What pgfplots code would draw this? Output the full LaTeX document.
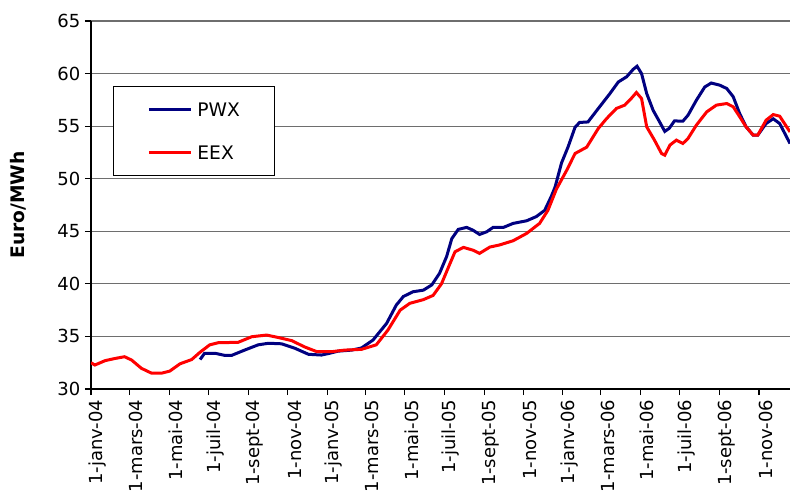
\documentclass[border=0pt]{standalone}
\usepackage{pgfplots}
\pgfplotsset{compat=1.18}
\usepackage{fontspec}
\setmainfont{DejaVu Sans}
\definecolor{pwx}{RGB}{0,0,128}
\definecolor{eex}{RGB}{255,0,0}
\definecolor{gridgray}{RGB}{110,110,110}

\begin{document}
\begin{tikzpicture}
\begin{axis}[
    scale only axis,
    width=524.25pt, height=276pt,
    xmin=0, xmax=1083, ymin=30, ymax=65,
    axis x line=bottom, axis y line=left,
    axis line style={-, line width=1pt},
    ytick={30,35,...,65},
    xtick={0,60,121,182,244,305,366,425,486,547,609,670,731,790,851,912,974,1035},
    xticklabels={1-janv-04,1-mars-04,1-mai-04,1-juil-04,1-sept-04,1-nov-04,
                 1-janv-05,1-mars-05,1-mai-05,1-juil-05,1-sept-05,1-nov-05,
                 1-janv-06,1-mars-06,1-mai-06,1-juil-06,1-sept-06,1-nov-06},
    ymajorgrids,
    grid style={gridgray, line width=0.8pt},
    tick align=outside,
    major tick length=4.5pt,
    tick style={black, line width=0.8pt},
    /pgf/number format/assume math mode=true,
    ticklabel style={font=\fontsize{13.5}{16}\selectfont},
    xticklabel style={rotate=90, anchor=east, yshift=-5pt},
    ylabel={Euro/MWh},
    ylabel style={font=\bfseries\fontsize{14}{16}\selectfont,
                  at={(axis description cs:-0.1037,0.5)}, anchor=center},
    legend style={at={(0.0315,0.823)}, anchor=north west,
                  draw=black, line width=0.6pt, fill=white,
                  font=\fontsize{14}{16}\selectfont,
                  inner xsep=25.5pt, inner ysep=12.25pt,
                  row sep=22.25pt, column sep=3.75pt,
                  nodes={inner sep=0pt, text height=10pt, text depth=0pt}},
    legend cell align=left,
    legend image code/.code={\draw[#1, line width=2.25pt] (0pt,0pt) -- (31.5pt,0pt);},
]
% PWX
\addplot[pwx, line width=2.25pt] coordinates {
(169,32.8) (176,33.4) (192,33.4) (207,33.2) (218,33.2) (238,33.7) (259,34.2)
(275,34.35) (295,34.3) (316,33.87) (337,33.3) (357,33.23) (370,33.4) (383,33.6)
(404,33.7) (419,33.9) (437,34.66) (458,36.24) (473,37.98) (484,38.8) (499,39.25)
(515,39.4) (528,39.9) (540,41.0) (551,42.6) (559,44.3) (569,45.18) (582,45.37)
(592,45.1) (602,44.7) (613,44.95) (623,45.37) (639,45.37) (654,45.75) (675,46.0)
(690,46.4) (703,47.0) (713,48.3) (719,49.2) (729,51.5) (739,53.0) (750,54.9)
(757,55.35) (770,55.4) (786,56.68) (804,58.1) (817,59.2) (830,59.7) (840,60.4)
(846,60.7) (853,60.0) (861,58.1) (871,56.5) (881,55.4) (889,54.5) (896,54.8)
(904,55.5) (917,55.47) (925,56.04) (938,57.47) (951,58.73) (961,59.1) (974,58.9)
(985,58.58) (995,57.8) (1005,56.2) (1015,54.93) (1026,54.14) (1033,54.14)
(1046,55.25) (1057,55.7) (1067,55.25) (1083,53.35)
};
\addlegendentry{PWX}
% EEX
\addplot[eex, line width=2.25pt] coordinates {
(0,32.5) (6,32.28) (22,32.7) (37,32.9) (52,33.07) (63,32.75) (78,31.97)
(94,31.5) (109,31.5) (122,31.7) (138,32.4) (156,32.8) (169,33.5) (184,34.2)
(197,34.4) (228,34.44) (249,34.97) (272,35.13) (290,34.9) (311,34.6) (331,34.0)
(350,33.55) (373,33.55) (393,33.7) (419,33.77) (442,34.2) (460,35.6) (479,37.5)
(494,38.15) (515,38.5) (530,38.9) (543,40.0) (556,41.9) (564,43.05) (577,43.47)
(592,43.2) (602,42.9) (618,43.5) (633,43.7) (654,44.1) (675,44.8) (695,45.75)
(708,47.0) (721,49.0) (737,50.8) (750,52.4) (768,53.0) (786,54.78) (799,55.73)
(814,56.68) (827,57.0) (837,57.63) (845,58.2) (853,57.63) (861,54.93) (873,53.67)
(884,52.4) (889,52.24) (897,53.2) (907,53.67) (917,53.35) (925,53.83) (938,55.1)
(954,56.36) (969,57.0) (985,57.15) (995,56.84) (1005,55.9) (1015,54.93)
(1026,54.14) (1033,54.14) (1046,55.57) (1057,56.1) (1067,55.95) (1083,54.45)
};
\addlegendentry{EEX}
\end{axis}
\pgfresetboundingbox
\path[use as bounding box] (-68.25pt,-78pt) rectangle (524.25pt,291.75pt);
\end{tikzpicture}
\end{document}
